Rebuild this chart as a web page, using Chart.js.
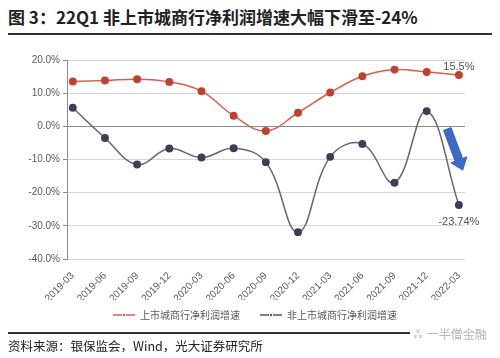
<!DOCTYPE html>
<html>
<head>
<meta charset="utf-8">
<script src="https://cdn.jsdelivr.net/npm/chart.js@4/dist/chart.umd.min.js"></script>
<style>
  body { margin:0; width:500px; height:358px; background:#fff; position:relative; overflow:hidden;
         font-family:"Noto Sans CJK SC","Noto Sans",sans-serif; }
  #title { position:absolute; left:8px; top:4px; font-size:17px; font-weight:bold; color:#222; white-space:nowrap; }
  #tline { position:absolute; left:8px; top:33px; width:484px; height:2px; background:#333; }
  #fline { position:absolute; left:8px; top:332px; width:402px; height:2px; background:#333; }
  #source { position:absolute; left:8px; top:336px; font-size:12.5px; color:#222; white-space:nowrap; }
  #mark { position:absolute; left:412px; top:325px; font-size:12px; color:#b5b5b5; white-space:nowrap; }
  #wrap { position:absolute; left:0; top:38px; width:500px; height:292px; }
</style>
</head>
<body>
<div id="title">图 3：22Q1 非上市城商行净利润增速大幅下滑至-24%</div>
<div id="tline"></div>
<div id="wrap"><canvas id="myChart"></canvas></div>
<div id="fline"></div>
<div id="source">资料来源：银保监会，Wind，光大证券研究所</div>
<div id="mark">⁂ 一半僧金融</div>
<script>
var quarters = ['2019-03','2019-06','2019-09','2019-12','2020-03','2020-06','2020-09',
                '2020-12','2021-03','2021-06','2021-09','2021-12','2022-03'];
var listedGrowth = [13.5, 13.8, 14.2, 13.4, 10.6, 3.2, -1.4, 4.1, 10.2, 15.1, 17.1, 16.4, 15.5];
var unlistedGrowth = [5.6, -3.5, -11.5, -6.7, -9.4, -6.6, -10.8, -31.9, -9.2, -5.3, -17.0, 4.6, -23.74];
var seriesNames = ['上市城商行净利润增速', '非上市城商行净利润增速'];
var yTicks = [20, 10, 0, -10, -20, -30, -40];

function toPoints(arr) {
    return arr.map(function (v, i) { return { x: i, y: v }; });
}

// legend marker: line with a small dot, left part kept empty as gap
function legendIcon(color) {
    var c = document.createElement('canvas');
    c.width = 32; c.height = 8;
    var g = c.getContext('2d');
    g.strokeStyle = color; g.lineWidth = 1.3;
    g.beginPath(); g.moveTo(10, 4); g.lineTo(19, 4); g.moveTo(23, 4); g.lineTo(32, 4); g.stroke();
    g.fillStyle = color;
    g.beginPath(); g.arc(21, 4, 1.2, 0, Math.PI * 2); g.fill();
    return c;
}

var icons = [legendIcon('#d4614b'), legendIcon('#555566')];

var extras = {
    id: 'extras',
    afterDatasetsDraw: function (chart) {
        var ctx = chart.ctx;
        var xs = chart.scales.x, ys = chart.scales.y;
        var last = quarters.length - 1;
        ctx.save();
        ctx.font = '11px "Liberation Sans", sans-serif';
        ctx.fillStyle = '#555';
        ctx.textAlign = 'center';
        ctx.textBaseline = 'middle';
        ctx.fillText(listedGrowth[last].toFixed(1) + '%', xs.getPixelForValue(last), ys.getPixelForValue(listedGrowth[last]) - 8);
        ctx.fillText(unlistedGrowth[last].toFixed(2) + '%', xs.getPixelForValue(last), ys.getPixelForValue(unlistedGrowth[last]) + 17);
        // blue arrow
        var x0 = xs.getPixelForValue(last - 0.36), y0 = ys.getPixelForValue(-0.8);
        var x1 = xs.getPixelForValue(last + 0.12), y1 = ys.getPixelForValue(-13.2);
        var ang = Math.atan2(y1 - y0, x1 - x0);
        var len = Math.hypot(x1 - x0, y1 - y0);
        ctx.translate(x0, y0);
        ctx.rotate(ang);
        ctx.fillStyle = '#3a6cc6';
        ctx.strokeStyle = '#2f5aa8';
        ctx.lineWidth = 0.8;
        ctx.beginPath();
        ctx.moveTo(0, -4);
        ctx.lineTo(len - 11, -4);
        ctx.lineTo(len - 11, -8.5);
        ctx.lineTo(len, 0);
        ctx.lineTo(len - 11, 8.5);
        ctx.lineTo(len - 11, 4);
        ctx.lineTo(0, 4);
        ctx.closePath();
        ctx.fill();
        ctx.stroke();
        ctx.restore();
    }
};

var ctx = document.getElementById('myChart').getContext('2d');
var myChart = new Chart(ctx, {
    type: 'line',
    data: {
        datasets: [{
            label: seriesNames[0],
            data: toPoints(listedGrowth),
            borderColor: '#d4614b',
            backgroundColor: '#c2402e',
            pointBackgroundColor: '#c2402e',
            pointBorderColor: '#c2402e',
            borderWidth: 1.5,
            pointRadius: 3.2,
            tension: 0.4
        }, {
            label: seriesNames[1],
            data: toPoints(unlistedGrowth),
            borderColor: '#66666f',
            backgroundColor: '#3e3f57',
            pointBackgroundColor: '#3e3f57',
            pointBorderColor: '#3e3f57',
            borderWidth: 1.5,
            pointRadius: 3.2,
            tension: 0.4
        }]
    },
    options: {
        responsive: true,
        maintainAspectRatio: false,
        animation: false,
        layout: { padding: { left: 5, right: 5, top: 22, bottom: 0 } },
        plugins: {
            tooltip: { enabled: false },
            legend: {
                position: 'bottom',
                labels: {
                    usePointStyle: true,
                    pointStyleWidth: 32,
                    color: '#595959',
                    font: { size: 10, family: '"Noto Sans CJK SC"' },
                    padding: 10,
                    generateLabels: function (chart) {
                        return chart.data.datasets.map(function (ds, i) {
                            return { text: ds.label, pointStyle: icons[i], fontColor: '#595959',
                                     strokeStyle: ds.borderColor, fillStyle: ds.borderColor, datasetIndex: i };
                        });
                    }
                }
            }
        },
        scales: {
            x: {
                type: 'linear',
                min: -0.18,
                max: 12.19,
                afterFit: function (s) { s.height = 41; },
                grid: { display: false },
                border: { display: false },
                ticks: {
                    stepSize: 1,
                    includeBounds: false,
                    autoSkip: false,
                    maxRotation: 45,
                    minRotation: 45,
                    color: '#595959',
                    font: { size: 10, family: '"Liberation Sans", sans-serif' },
                    callback: function (v) { return Number.isInteger(v) ? quarters[v] : ''; }
                }
            },
            y: {
                min: -40,
                max: 20,
                afterFit: function (s) { s.width = 62; },
                afterBuildTicks: function (s) { s.ticks = yTicks.map(function (v) { return { value: v }; }); },
                border: { display: true, color: '#8c8c8c', width: 1 },
                grid: {
                    color: function (c) { return c.tick && c.tick.value === 0 ? '#8c8c8c' : '#d6d6d6'; },
                    tickColor: '#8c8c8c',
                    tickLength: 4,
                    lineWidth: 1
                },
                ticks: {
                    color: '#595959',
                    padding: 3,
                    font: { size: 10, family: '"Liberation Sans", sans-serif' },
                    callback: function (v) { return v.toFixed(1) + '%'; }
                }
            },
            // empty right-hand space so the plot ends where the original does
            yRight: {
                position: 'right',
                afterFit: function (s) { s.width = 30; },
                grid: { display: false },
                border: { display: false },
                ticks: { display: false }
            }
        }
    },
    plugins: [extras]
});
</script>
</body>
</html>
